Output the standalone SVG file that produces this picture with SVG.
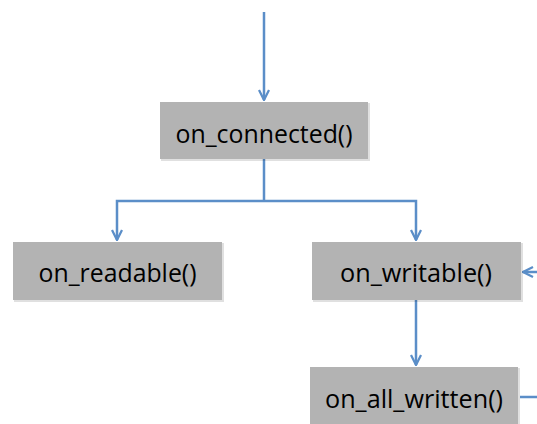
<svg xmlns="http://www.w3.org/2000/svg" width="537" height="424" viewBox="0 0 537 424">
<style>
.box{fill:#b3b3b3}
.sh{fill:#000;opacity:0.12}
.lbl{font-family:"Open Sans","Liberation Sans",Arial,sans-serif;font-size:26px;fill:#000;text-anchor:middle}
.ln{fill:none;stroke:#5b8ec8;stroke-width:2.5}
</style>
<defs>
<marker id="ah" viewBox="0 0 10 10" refX="9" refY="5" markerWidth="5" markerHeight="5" orient="auto" markerUnits="strokeWidth">
<path d="M1,1 L9,5 L1,9" fill="none" stroke="#5b8ec8" stroke-width="1.8"/>
</marker>
</defs>
<rect width="537" height="424" fill="#fff"/>
<g id="connectors">
<path class="ln" d="M264,12 V100" marker-end="url(#ah)"/>
<path class="ln" d="M264,159 V201"/>
<path class="ln" d="M264,201 H117 V240" marker-end="url(#ah)"/>
<path class="ln" d="M264,201 H416 V240" marker-end="url(#ah)"/>
<path class="ln" d="M537,272 H523" marker-end="url(#ah)"/>
<path class="ln" d="M416,300 V365" marker-end="url(#ah)"/>
<path class="ln" d="M520,397 H537"/>
</g>
<g id="on_connected">
<rect class="sh" x="161" y="103" width="209" height="58"/>
<rect class="box" x="160" y="102" width="208" height="57"/>
<text class="lbl" x="264" y="143" textLength="177" lengthAdjust="spacingAndGlyphs">on_connected()</text>
</g>
<g id="on_readable">
<rect class="sh" x="14" y="243" width="210" height="59"/>
<rect class="box" x="13" y="242" width="209" height="58"/>
<text class="lbl" x="117.5" y="282" textLength="158" lengthAdjust="spacingAndGlyphs">on_readable()</text>
</g>
<g id="on_writable">
<rect class="sh" x="313" y="243" width="210" height="59"/>
<rect class="box" x="312" y="242" width="209" height="58"/>
<text class="lbl" x="416" y="282" textLength="152" lengthAdjust="spacingAndGlyphs">on_writable()</text>
</g>
<g id="on_all_written">
<rect class="sh" x="311" y="368" width="209" height="58"/>
<rect class="box" x="310" y="367" width="208" height="58"/>
<text class="lbl" x="414" y="408" textLength="178" lengthAdjust="spacingAndGlyphs">on_all_written()</text>
</g>
</svg>
